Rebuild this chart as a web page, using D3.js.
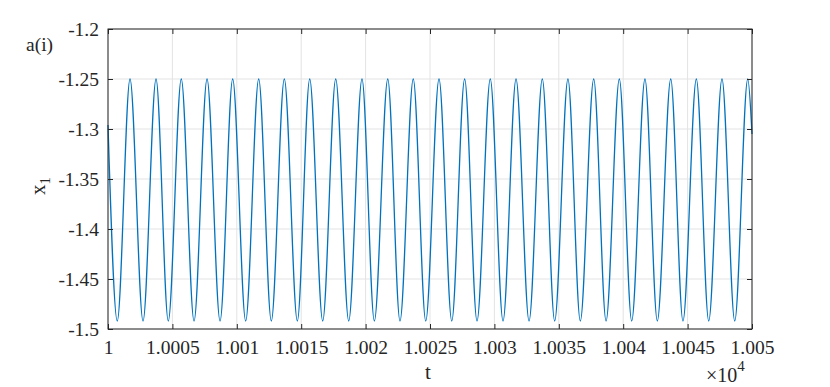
<!DOCTYPE html>
<html><head><meta charset="utf-8">
<script src="https://cdn.jsdelivr.net/npm/d3@7"></script>
<style>body{margin:0;background:#fff}svg{display:block}text{font-family:"Liberation Serif","DejaVu Serif",serif;fill:#262626}</style>
</head><body><svg id="c" width="830" height="387"></svg>
<script>
// ---- data ----
const xTicks = [10000,10005,10010,10015,10020,10025,10030,10035,10040,10045,10050];
const xTickLabels = ["1","1.0005","1.001","1.0015","1.002","1.0025","1.003","1.0035","1.004","1.0045","1.005"];
const yTicks = [-1.2,-1.25,-1.3,-1.35,-1.4,-1.45,-1.5];
const yTickLabels = ["-1.2","-1.25","-1.3","-1.35","-1.4","-1.45","-1.5"];
// times of local maxima / minima of x1 (t - 10000)
const peakT = [1.71,3.73,5.69,7.69,9.68,11.70,13.69,15.66,17.68,19.72,21.72,23.70,25.70,27.69,29.68,31.68,33.72,35.71,37.71,39.70,41.69,43.69,45.68,47.67,49.67];
const troughT = [0.72,2.72,4.68,6.68,8.70,10.69,12.68,14.70,16.67,18.69,20.68,22.67,24.67,26.69,28.65,30.67,32.69,34.68,36.67,38.67,40.66,42.65,44.64,46.64,48.66];
const peakValue = -1.25;
const troughValue = -1.492;
const startPoint = [0, -1.296];
const endPoint = [50, -1.305];

const W=830,H=387, m={l:108,r:78,t:29,b:58};
const svg=d3.select("#c");
const x=d3.scaleLinear().domain([10000,10050]).range([m.l,W-m.r]);
const y=d3.scaleLinear().domain([-1.5,-1.2]).range([H-m.b,m.t]);
const FONT='"Liberation Serif","DejaVu Serif",serif';

// grid
const g=svg.append("g");
g.selectAll(".gx").data(xTicks).join("line").attr("x1",d=>x(d)).attr("x2",d=>x(d)).attr("y1",y(-1.5)).attr("y2",y(-1.2)).attr("stroke","#e3e3e3").attr("stroke-width",1);
g.selectAll(".gy").data(yTicks).join("line").attr("y1",d=>y(d)).attr("y2",d=>y(d)).attr("x1",x(10000)).attr("x2",x(10050)).attr("stroke","#e3e3e3").attr("stroke-width",1);

// data line
const pts=[startPoint]
 .concat(peakT.map(t=>[t,peakValue]))
 .concat(troughT.map(t=>[t,troughValue]))
 .concat([endPoint])
 .map(([t,v])=>[10000+t,v]).sort((a,b)=>a[0]-b[0]);
svg.append("path").datum(pts)
 .attr("d",d3.line().x(d=>x(d[0])).y(d=>y(d[1])).curve(d3.curveMonotoneX))
 .attr("fill","none").attr("stroke","#0072BD").attr("stroke-width",1.3);

// axes
const xb=d3.axisBottom(x).tickValues(xTicks).tickSize(-5).tickFormat((d,i)=>xTickLabels[i]).tickPadding(11);
const xt=d3.axisTop(x).tickValues(xTicks).tickSize(-5).tickFormat("");
const yl=d3.axisLeft(y).tickValues(yTicks).tickSize(-5).tickFormat((d,i)=>yTickLabels[i]).tickPadding(9);
const yr=d3.axisRight(y).tickValues(yTicks).tickSize(-5).tickFormat("");
function style(sel){sel.attr("font-family",FONT);sel.selectAll("line").attr("stroke","#262626");sel.selectAll("text").attr("fill","#262626").style("font-family",FONT).style("font-size","19.5px");}
svg.append("g").attr("transform",`translate(0,${y(-1.5)})`).call(xb).call(style);
svg.append("g").attr("transform",`translate(0,${y(-1.2)})`).call(xt).call(style);
svg.append("g").attr("transform",`translate(${x(10000)},0)`).call(yl).call(style);
svg.append("g").attr("transform",`translate(${x(10050)},0)`).call(yr).call(style);
svg.selectAll(".domain").remove();
svg.append("rect").attr("x",x(10000)).attr("y",y(-1.2)).attr("width",x(10050)-x(10000)).attr("height",y(-1.5)-y(-1.2)).attr("fill","none").attr("stroke","#262626").attr("stroke-width",1);

// labels
svg.append("text").attr("x",x(10025)-2).attr("y",379).attr("text-anchor","middle").style("font-size","21px").text("t");
const ex=svg.append("text").attr("x",706).attr("y",382).style("font-size","20px");
ex.append("tspan").text("×10");
ex.append("tspan").attr("dy",-11).style("font-size","15px").text("4");
const yt=svg.append("text").attr("transform","translate(45,186) rotate(-90)").attr("text-anchor","middle").style("font-size","21px");
yt.append("tspan").text("x");
yt.append("tspan").attr("dy",5).style("font-size","15px").text("1");
svg.append("text").attr("x",26).attr("y",51).style("font-size","19.5px").text("a(i)");
</script></body></html>
